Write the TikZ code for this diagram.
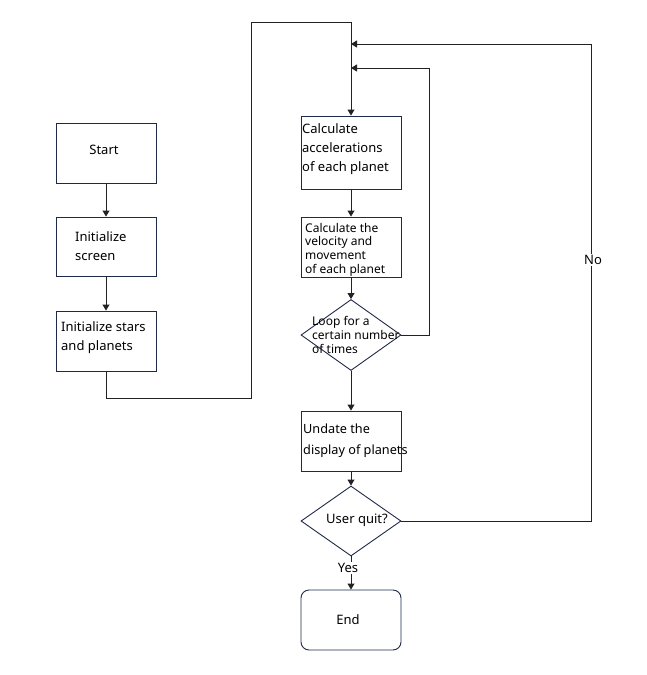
\documentclass[tikz,border=0pt]{standalone}
\usepackage{fontspec}
\setmainfont{Noto Sans}
\usetikzlibrary{shapes.geometric,arrows.meta}
\definecolor{boxc}{HTML}{1F2A4A}
\definecolor{linec}{HTML}{222222}
\tikzset{
  box/.style={draw=boxc, line width=0.9pt, minimum width=100pt, inner sep=0pt, fill=white},
  dia/.style={draw=boxc, line width=0.9pt, diamond, minimum width=100pt, minimum height=71pt, inner sep=0pt},
  txt/.style={font=\fontsize{13}{19}\selectfont, inner sep=0pt, align=left, text=black},
  small/.style={font=\fontsize{12}{13.7}\selectfont, inner sep=0pt, align=left, text=black},
  arr/.style={draw=linec, line width=0.9pt, -{Triangle[length=6pt,width=7pt]}},
  ln/.style={draw=linec, line width=0.9pt},
  lab/.style={font=\fontsize{13}{15}\selectfont, fill=white, inner sep=1pt, text=black}
}
\begin{document}
\begin{tikzpicture}[x=1pt,y=-1pt]
\useasboundingbox (0,0) rectangle (646,675);
% boxes
\node[box, minimum height=60pt] (start) at (106,153) {};
\node[box, minimum height=59pt] (screen) at (106,246.5) {};
\node[box, minimum height=60pt] (stars) at (106,341) {};
\node[box, minimum height=73pt] (accel) at (351,152.5) {};
\node[box, minimum height=60pt] (vel) at (351,247) {};
\node[dia] (loop) at (351,335) {};
\node[box, minimum height=60pt] (upd) at (351,441) {};
\node[dia, minimum height=70pt] (quit) at (351,521) {};
\node[box, minimum height=60pt, rounded corners=8pt] (end) at (351,620) {};
% texts
\node[txt] (startT) at (104,150) {Start};
\node[txt, anchor=west] (screenT) at (75,246.5) {Initialize\\screen};
\node[txt, anchor=west] (starsT) at (61,338) {Initialize stars\\and planets};
\node[txt, anchor=west] (accelT) at (302,149) {Calculate\\accelerations\\of each planet};
\node[small, anchor=west] (velT) at (305,249.5) {Calculate the\\velocity and\\movement\\of each planet};
\node[small, anchor=west] (loopT) at (312,335) {Loop for a\\certain number\\of times};
\node[txt, anchor=west, font=\fontsize{12.7}{21}\selectfont] (updT) at (303,440.5) {Undate the\\display of planets};
\node[txt] (quitT) at (357,520) {User quit?};
\node[txt] (endT) at (348,620) {End};
% connectors
\draw[arr] (start) -- (screen);
\draw[arr] (screen) -- (stars);
\draw[arr] (stars.south) -- (106,398) -- (251,398) -- (251,22) -- (351,22) -- (accel.north);
\draw[arr] (accel) -- (vel);
\draw[arr] (vel) -- (loop.north);
\draw[arr] (loop.south) -- (upd.north);
\draw[arr] (upd) -- (quit.north);
\coordinate (in1) at (351,68);
\coordinate (in2) at (351,44);
\draw[arr] (loop.east) -- (429,335) -- (429,68) -- (in1);
\draw[arr] (quit.east) -- (591,521) -- (591,44) -- (in2);
\draw[arr] (quit.south) -- (end.north);
\node[lab] (yes) at (348,568) {Yes};
\node[lab] (no) at (593,260) {No};
\end{tikzpicture}
\end{document}
